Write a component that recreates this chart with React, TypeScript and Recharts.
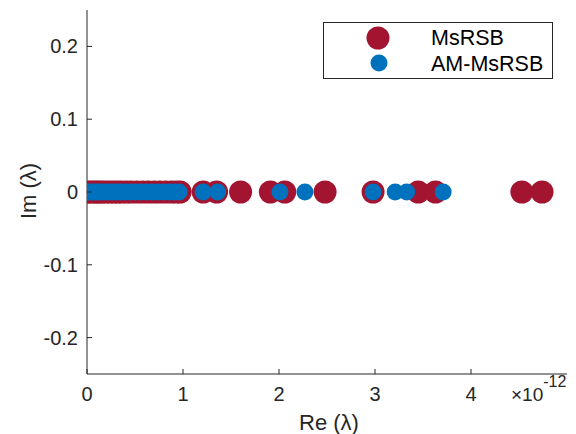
import React from 'react';
import { ScatterChart, Scatter, XAxis, YAxis, Label } from 'recharts';

const msrsbRe = [
  0.015, 0.04, 0.07, 0.1, 0.13, 0.16, 0.2, 0.24, 0.28, 0.32, 0.36, 0.41, 0.46,
  0.52, 0.58, 0.64, 0.7, 0.76, 0.82, 0.88, 0.93, 0.97,
  1.21, 1.35, 1.6, 1.91, 2.06, 2.48, 2.98, 3.45, 3.63, 4.53, 4.74,
];
const amMsrsbRe = [
  0.0, 0.03, 0.06, 0.09, 0.12, 0.15, 0.19, 0.23, 0.27, 0.31, 0.35, 0.4, 0.45,
  0.5, 0.56, 0.62, 0.68, 0.74, 0.8, 0.86, 0.91, 0.96,
  1.21, 1.36, 2.01, 2.27, 2.98, 3.21, 3.33, 3.71,
];
// Imaginary parts: all eigenvalues lie on the real axis
const imagValue = 0;

const seriesNames = ['MsRSB', 'AM-MsRSB'];
const xTicks = [0, 1, 2, 3, 4];
const yTicks = [-0.2, -0.1, 0, 0.1, 0.2];

const RED = '#A2142F';
const BLUE = '#0072BD';
const AXIS = '#262626';
const FONT = '"Liberation Sans", Arial, Helvetica, sans-serif';

const msrsbData = msrsbRe.map((x) => ({ x, y: imagValue }));
const amData = amMsrsbRe.map((x) => ({ x, y: imagValue }));

const XTick = (props: any) => {
  const { x, y, payload } = props;
  return (
    <g>
      <line x1={x} y1={y} x2={x} y2={y - 5} stroke={AXIS} strokeWidth={1} />
      <text x={x} y={y + 27} textAnchor="middle" fontSize={20} fontFamily={FONT} fill={AXIS}>
        {String(payload.value)}
      </text>
    </g>
  );
};

const YTick = (props: any) => {
  const { x, y, payload } = props;
  return (
    <g>
      <line x1={x} y1={y} x2={x + 5} y2={y} stroke={AXIS} strokeWidth={1} />
      <text x={x - 9} y={y + 7} textAnchor="end" fontSize={20} fontFamily={FONT} fill={AXIS}>
        {String(payload.value)}
      </text>
    </g>
  );
};

const redShape = (p: any) => <circle cx={p.cx} cy={p.cy} r={11.5} fill={RED} />;
const blueShape = (p: any) => <circle cx={p.cx} cy={p.cy} r={8.5} fill={BLUE} />;

const XLabel = () => (
  <g>
    <text x={329} y={430} textAnchor="middle" fontSize={22} fontFamily={FONT} fill={AXIS}>
      Re (λ)
    </text>
    <text x={511} y={401} fontSize={19} fontFamily={FONT} fill={AXIS}>
      ×10
      <tspan dy={-14} fontSize={16}>-12</tspan>
    </text>
  </g>
);

const YLabel = () => {
  const cx = 28;
  const cy = 191;
  return (
    <text
      x={cx}
      y={cy}
      transform={`rotate(-90, ${cx}, ${cy})`}
      textAnchor="middle"
      dominantBaseline="central"
      fontSize={22}
      fontFamily={FONT}
      fill={AXIS}
    >
      Im (λ)
    </text>
  );
};

const LegendBox = () => (
  <svg width={230} height={57} style={{ display: 'block', overflow: 'visible' }}>
    <rect x={0.5} y={0.5} width={229} height={56} fill="#fff" stroke={AXIS} strokeWidth={1} />
    <circle cx={55} cy={16} r={11.5} fill={RED} />
    <circle cx={56} cy={41} r={8.5} fill={BLUE} />
    <text x={108} y={23} fontSize={21.5} fontFamily={FONT} fill="#000">{seriesNames[0]}</text>
    <text x={108} y={49} fontSize={21.5} fontFamily={FONT} fill="#000">{seriesNames[1]}</text>
  </svg>
);

export default function App() {
  return (
    <div style={{ position: 'absolute', left: 0, top: 0, width: 576, height: 434, background: '#fff' }}>
      <ScatterChart width={576} height={434} margin={{ top: 10, right: 9, bottom: 0, left: 0 }}>
        <XAxis
          type="number"
          dataKey="x"
          domain={[0, 5]}
          ticks={xTicks}
          interval={0}
          allowDataOverflow
          height={60}
          tickSize={0}
          tickMargin={0}
          tickLine={false}
          axisLine={{ stroke: AXIS, strokeWidth: 1 }}
          tick={<XTick />}
        >
          <Label content={<XLabel />} />
        </XAxis>
        <YAxis
          type="number"
          dataKey="y"
          domain={[-0.25, 0.25]}
          ticks={yTicks}
          interval={0}
          allowDataOverflow
          width={87}
          tickSize={0}
          tickMargin={0}
          tickLine={false}
          axisLine={{ stroke: AXIS, strokeWidth: 1 }}
          tick={<YTick />}
        >
          <Label content={<YLabel />} />
        </YAxis>
        <Scatter name={seriesNames[0]} data={msrsbData} fill={RED} shape={redShape} isAnimationActive={false} />
        <Scatter name={seriesNames[1]} data={amData} fill={BLUE} shape={blueShape} isAnimationActive={false} />
      </ScatterChart>
      <div style={{ position: 'absolute', left: 323, top: 22, width: 230, height: 57 }}>
        <LegendBox />
      </div>
    </div>
  );
}
